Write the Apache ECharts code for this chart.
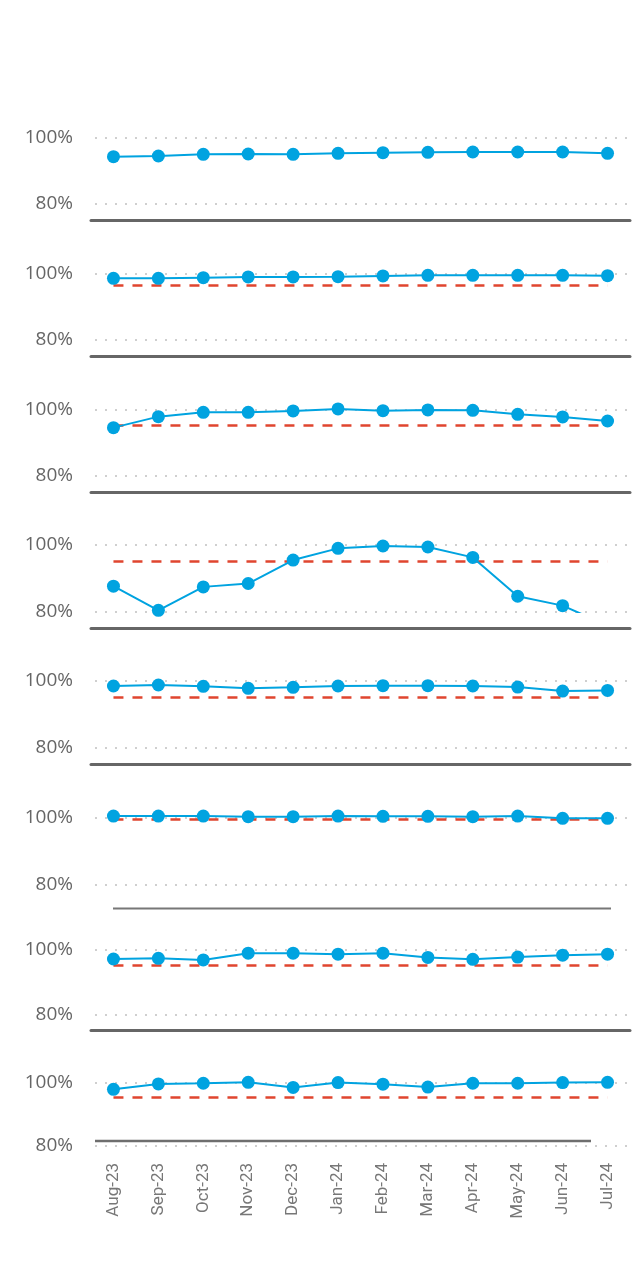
<!DOCTYPE html>
<html>
<head>
<meta charset="utf-8">
<script src="https://cdn.jsdelivr.net/npm/echarts@6/dist/echarts.min.js"></script>
<style>
  html, body { margin: 0; padding: 0; background: #fff; }
  #chart { width: 644px; height: 1285px; }
</style>
</head>
<body>
<div id="chart"></div>
<script>
// months on the x axis
const months = ["Aug-23", "Sep-23", "Oct-23", "Nov-23", "Dec-23", "Jan-24",
  "Feb-24", "Mar-24", "Apr-24", "May-24", "Jun-24", "Jul-24"];

// one array per small multiple (percent)
const panel1 = [94.2, 94.4, 94.9, 95.0, 94.9, 95.2, 95.4, 95.5, 95.6, 95.6, 95.6, 95.2];
const panel2 = [98.5, 98.5, 98.7, 98.9, 98.9, 99.0, 99.2, 99.4, 99.4, 99.4, 99.4, 99.3];
const panel3 = [94.5, 97.8, 99.1, 99.1, 99.5, 100.1, 99.6, 99.8, 99.7, 98.5, 97.7, 96.5];
const panel4 = [87.7, 80.5, 87.5, 88.5, 95.5, 99.0, 99.7, 99.4, 96.3, 84.7, 81.9, 76.0];
const panel5 = [98.5, 98.8, 98.4, 97.8, 98.1, 98.5, 98.6, 98.6, 98.5, 98.2, 97.0, 97.2];
const panel6 = [100.5, 100.5, 100.5, 100.3, 100.3, 100.5, 100.4, 100.4, 100.3, 100.5, 99.8, 99.8];
const panel7 = [97.2, 97.4, 96.9, 99.0, 99.0, 98.7, 99.0, 97.7, 97.1, 97.8, 98.4, 98.7];
const panel8 = [97.8, 99.5, 99.7, 100.0, 98.4, 99.9, 99.4, 98.5, 99.7, 99.7, 99.9, 100.0];
const panels = [panel1, panel2, panel3, panel4, panel5, panel6, panel7, panel8];

// target line per panel (first one has none)
const targets = [null, 96.5, 95.3, 95.2, 95.1, 99.5, 95.3, 95.2];

// y axis ticks
const yMin = 80;
const yMax = 104;
const yStep = 20;

// layout: pixel rows of the 100% and 80% gridlines of each panel
const row100 = [137.3, 273.3, 409.3, 545, 681, 817.7, 950, 1082.3];
const row80 = [204, 340, 476, 612, 748, 884.3, 1014.3, 1146];
const sepOffset = [16, 16, 16, 16, 16, null, 15.7, null];

const BLUE = "#00a3e0";
const RED = "#e0452f";
const FONT = "'Open Sans', 'Noto Sans', sans-serif";

const chart = echarts.init(document.getElementById("chart"), null, { renderer: "canvas" });

const grids = [];
const xAxes = [];
const yAxes = [];
const series = [];

panels.forEach((vals, i) => {
  const pp = (row80[i] - row100[i]) / (100 - yMin);
  const top = row100[i] - (yMax - 100) * pp;
  const last = i === panels.length - 1;

  grids.push({
    left: 91,
    width: 539,
    top: top,
    height: row80[i] - top,
    outerBoundsMode: "none",
  });

  xAxes.push({
    type: "category",
    gridIndex: i,
    data: months,
    boundaryGap: true,
    offset: sepOffset[i] == null ? 0 : sepOffset[i],
    axisLine: {
      show: sepOffset[i] != null,
      lineStyle: { color: "#666", width: 3 },
    },
    axisTick: { show: false },
    splitLine: { show: false },
    axisLabel: {
      show: last,
      rotate: 90,
      margin: 17,
      color: "#777",
      fontSize: 17,
      fontFamily: "Roboto, sans-serif",
    },
  });

  yAxes.push({
    type: "value",
    gridIndex: i,
    min: yMin,
    max: yMax,
    interval: yStep,
    axisLine: { show: false },
    axisTick: { show: false },
    axisLabel: {
      margin: 18,
      color: "#666",
      fontSize: 19,
      fontFamily: FONT,
      showMaxLabel: false,
      formatter: (v) => (v % yStep === 0 ? v + "%" : ""),
    },
    splitLine: {
      show: true,
      showMaxLine: false,
      lineStyle: { color: "#cfcfcf", width: 2, type: [2, 8], dashOffset: 6 },
    },
  });

  const s = {
    type: "line",
    xAxisIndex: i,
    yAxisIndex: i,
    data: vals,
    clip: true,
    z: 3,
    symbol: "circle",
    symbolSize: 13,
    itemStyle: { color: BLUE },
    lineStyle: { color: BLUE, width: 2 },
    emphasis: { disabled: true },
    animation: false,
  };
  if (targets[i] != null) {
    s.markLine = {
      silent: true,
      symbol: "none",
      z: 1,
      label: { show: false },
      lineStyle: { color: RED, width: 2.5, type: [10, 9] },
      data: [[
        { xAxis: months[0], yAxis: targets[i] },
        { xAxis: months[months.length - 1], yAxis: targets[i] },
      ]],
    };
  }
  series.push(s);
});

const option = {
  animation: false,
  textStyle: { fontFamily: FONT },
  grid: grids,
  xAxis: xAxes,
  yAxis: yAxes,
  series: series,
  // two separators that sit off the axis in the original
  graphic: [
    {
      type: "line",
      shape: { x1: 113, y1: 908.5, x2: 611, y2: 908.5 },
      style: { stroke: "#777", lineWidth: 2 },
    },
    {
      type: "line",
      shape: { x1: 95, y1: 1141, x2: 591, y2: 1141 },
      style: { stroke: "#6e6e6e", lineWidth: 2.5 },
    },
  ],
};

chart.setOption(option);
</script>
</body>
</html>
